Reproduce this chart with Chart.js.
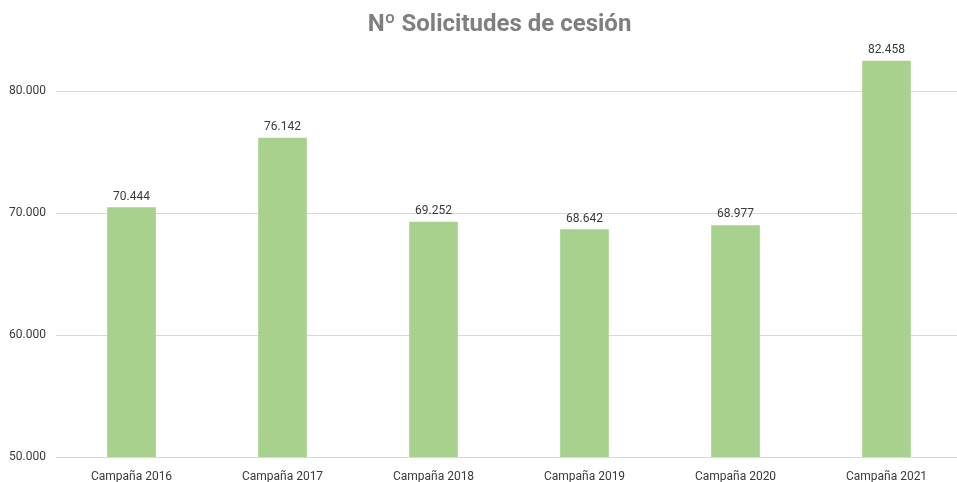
<!DOCTYPE html>
<html>
<head>
<meta charset="utf-8">
<script src="https://cdn.jsdelivr.net/npm/chart.js@4"></script>
<style>
  html, body { margin: 0; padding: 0; background: #fff; overflow: hidden; }
  #wrap { position: relative; width: 962px; height: 482px; }
  #title {
    position: absolute; left: 0; width: 999px; top: 9px; margin: 0;
    text-align: center; font: bold 24px Roboto, sans-serif;
    color: #7f7f7f;
  }
</style>
</head>
<body>
<div id="wrap">
  <h1 id="title">Nº Solicitudes de cesión</h1>
  <canvas id="chart" width="962" height="482"></canvas>
</div>
<script>
// ── Data ───────────────────────────────────────────────────────────────────
const categories = ['Campaña 2016', 'Campaña 2017', 'Campaña 2018', 'Campaña 2019', 'Campaña 2020', 'Campaña 2021'];
const solicitudes = [70444, 76142, 69252, 68642, 68977, 82458];
const yTicks = [50000, 60000, 70000, 80000];

const FONT = 'Roboto, sans-serif';
const fmt = v => v.toLocaleString('de-DE');

// value labels above each bar
const barLabels = {
    id: 'barLabels',
    afterDatasetsDraw(chart) {
        const ctx = chart.ctx;
        const meta = chart.getDatasetMeta(0);
        ctx.save();
        ctx.font = '12px ' + FONT;
        ctx.fillStyle = '#3a3a3a';
        ctx.textAlign = 'center';
        ctx.textBaseline = 'alphabetic';
        meta.data.forEach((bar, i) => {
            ctx.fillText(fmt(solicitudes[i]), bar.x, bar.y - 8);
        });
        ctx.restore();
    }
};

new Chart(document.getElementById('chart').getContext('2d'), {
    type: 'bar',
    data: {
        labels: categories,
        datasets: [{
            data: solicitudes,
            backgroundColor: '#a9d18e',
            borderWidth: 0,
            barThickness: 48
        }]
    },
    options: {
        responsive: false,
        animation: false,
        layout: { padding: { top: 30, right: 0, bottom: 0, left: 0 } },
        plugins: {
            legend: { display: false },
            tooltip: { enabled: false }
        },
        scales: {
            x: {
                grid: { display: false },
                border: { display: false },
                ticks: { color: '#3a3a3a', font: { family: FONT, size: 12 }, padding: 5 },
                afterFit: s => { s.height = 25; }
            },
            y: {
                min: 50000,
                max: 85000,
                afterBuildTicks: s => { s.ticks = yTicks.map(v => ({ value: v })); },
                grid: { color: '#d9d9d9', drawTicks: false },
                border: { display: false },
                ticks: { color: '#3a3a3a', font: { family: FONT, size: 12 }, padding: 10, callback: v => fmt(v) },
                afterFit: s => { s.width = 56; }
            }
        }
    },
    plugins: [barLabels]
});
</script>
</body>
</html>
